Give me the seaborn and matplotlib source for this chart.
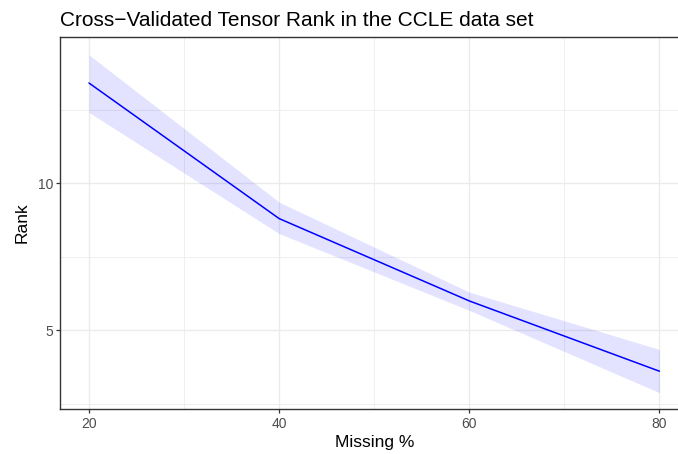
import pandas as pd
import matplotlib
matplotlib.use("Agg")
import matplotlib.pyplot as plt
import seaborn as sns
from matplotlib.ticker import MultipleLocator

# values
missing_pct = [20, 40, 60, 80]
rank_mean = [13.41, 8.80, 6.00, 3.61]
rank_lower = [12.41, 8.29, 5.68, 2.88]
rank_upper = [14.37, 9.36, 6.30, 4.35]

df = pd.DataFrame({"Missing %": missing_pct, "Rank": rank_mean,
                   "lo": rank_lower, "hi": rank_upper})

sns.set_style("white")
plt.rcParams['font.family'] = ['Liberation Sans', 'DejaVu Sans']

fig = plt.figure(figsize=(6.78, 4.54), dpi=100)
ax = fig.add_axes([0.0892, 0.0991, 0.9255, 0.8194])

ax.fill_between(df["Missing %"], df["lo"], df["hi"], color="blue", alpha=0.11,
                linewidth=0, zorder=2)
sns.lineplot(data=df, x="Missing %", y="Rank", color="blue", linewidth=1.1,
             ax=ax, zorder=3)

ax.set_xlim(17, 83)
ax.set_ylim(2.325, 14.975)
ax.xaxis.set_major_locator(MultipleLocator(20))
ax.xaxis.set_minor_locator(MultipleLocator(10))
ax.yaxis.set_major_locator(MultipleLocator(5))
ax.yaxis.set_minor_locator(MultipleLocator(2.5))

ax.grid(which="major", color="#EBEBEB", linewidth=1.0, zorder=0)
ax.grid(which="minor", color="#EBEBEB", linewidth=0.55, zorder=0)
ax.set_axisbelow(True)

for s in ax.spines.values():
    s.set_color("#333333")
    s.set_linewidth(1.0)

ax.tick_params(which="major", bottom=True, left=True, length=2.9, width=0.9,
               color="#333333", labelcolor="#4D4D4D", labelsize=10, pad=2.5)
ax.tick_params(which="minor", bottom=False, left=False, length=0)

ax.set_xlabel("Missing %", fontsize=12.6, color="black", labelpad=3)
ax.set_ylabel("Rank", fontsize=12.6, color="black", labelpad=6)
ax.set_title("Cross\u2212Validated Tensor Rank in the CCLE data set",
             fontsize=15, loc="left", pad=8, color="black")

fig.savefig("out.png", dpi=100)
